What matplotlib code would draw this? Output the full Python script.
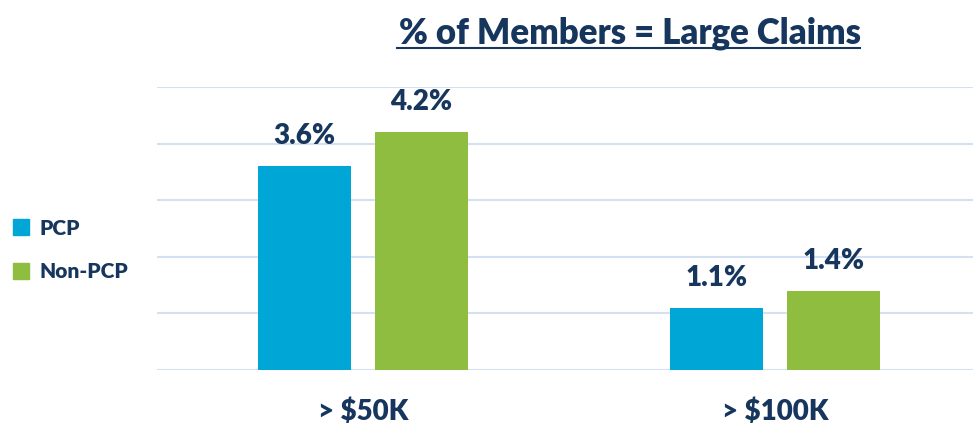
import matplotlib.pyplot as plt
from matplotlib.patches import Patch

plt.rcParams['font.family'] = ['Lato', 'DejaVu Sans']

categories = ['> $50K', '> $100K']
pcp = [3.6, 1.1]
non_pcp = [4.2, 1.4]
series_names = ['PCP', 'Non-PCP']

navy = '#17365D'
blue = '#00A6D6'
green = '#8FBD3F'

fig = plt.figure(figsize=(9.73, 4.24), dpi=100)
ax = fig.add_axes([157 / 973, 54 / 424, 816 / 973, 283 / 424])

x = [0, 1]
w = 0.226
off = 0.142
b1 = ax.bar([i - off for i in x], pcp, width=w, color=blue, zorder=3)
b2 = ax.bar([i + off for i in x], non_pcp, width=w, color=green, zorder=3)

for bars, vals in ((b1, pcp), (b2, non_pcp)):
    for rect, v in zip(bars, vals):
        ax.text(rect.get_x() + rect.get_width() / 2, v + 0.3, f'{v:.1f}%',
                ha='center', va='bottom', fontsize=20, fontweight='heavy', color=navy)

ax.set_xlim(-0.5, 1.48)
ax.set_ylim(0, 5)
ax.set_yticks(range(6))
ax.yaxis.grid(True, color='#D3E1F3', linewidth=1.5, zorder=0)
ax.tick_params(left=False, labelleft=False, bottom=False)
ax.set_xticks(x)
ax.set_xticklabels(categories, fontsize=20, fontweight='heavy', color=navy)
ax.tick_params(axis='x', pad=17)
for s in ax.spines.values():
    s.set_visible(False)

fig.text(630 / 973, 1 - 33 / 424, '% of Members = Large Claims', ha='center', va='center',
         fontsize=25, fontweight='heavy', color=navy)
fig.add_artist(plt.Line2D([397 / 973, 860 / 973], [1 - 48 / 424, 1 - 48 / 424], color=navy, linewidth=1.5))

handles = [Patch(color=blue), Patch(color=green)]
fig.legend(handles, series_names, loc='center left', bbox_to_anchor=(0.0, 1 - 250 / 424),
           frameon=False, handlelength=0.8, handleheight=0.8, handletextpad=0.5,
           borderaxespad=0.0, borderpad=0.6,
           labelspacing=1.2, prop={'size': 15, 'weight': 'heavy'}, labelcolor=navy)

fig.savefig('out.png', dpi=100)
